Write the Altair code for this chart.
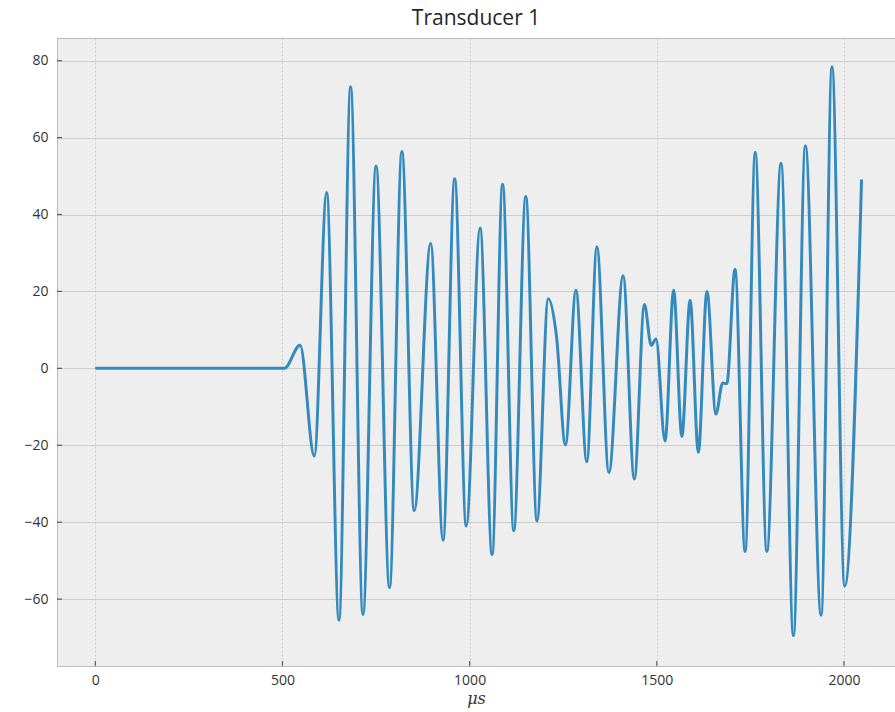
import altair as alt
import pandas as pd

# Extrema of the recorded signal (time in microseconds, amplitude)
time_us = [0, 505, 547, 585, 618, 651, 682, 715, 750, 786, 819, 852, 896, 929,
           960, 991, 1028, 1060, 1088, 1118, 1150, 1180, 1210, 1232, 1256, 1284,
           1313, 1340, 1372, 1410, 1440, 1467, 1485, 1498, 1522, 1545, 1567,
           1589, 1611, 1634, 1658, 1676, 1687, 1709, 1736, 1763, 1794, 1832,
           1865, 1897, 1939, 1968, 2002, 2047]
amplitude = [0, 0, 6.0, -22.8, 45.7, -65.5, 73.2, -64.0, 52.6, -57.0, 56.4,
             -37.0, 32.5, -44.7, 49.3, -41.0, 36.5, -48.4, 47.9, -42.2, 44.7,
             -39.7, 18.1, 8.4, -19.9, 20.3, -24.3, 31.6, -27.1, 24.1, -28.8,
             16.6, 6.0, 7.6, -18.9, 20.3, -17.7, 17.7, -21.8, 20.0, -11.9, -3.8,
             -4.0, 25.8, -47.6, 56.1, -47.6, 53.3, -69.5, 57.9, -64.2, 78.4,
             -56.6, 49.1]

x_ticks = [0, 500, 1000, 1500, 2000]
y_ticks = [-60, -40, -20, 0, 20, 40, 60, 80]

W, H = 838, 628
x_scale = alt.Scale(domain=[-102.35, 2136.4], nice=False, zero=False)
y_scale = alt.Scale(domain=[-77.4, 85.9], nice=False, zero=False)

signal = pd.DataFrame({"t": time_us, "a": amplitude})
xt = pd.DataFrame({"t": x_ticks})
yt = pd.DataFrame({"a": y_ticks})

label_expr = "datum.value < 0 ? '\u2212' + format(-datum.value, 'd') : format(datum.value, 'd')"

line = alt.Chart(signal).mark_line(
    color="#348ABD", strokeWidth=3, interpolate="monotone"
).encode(
    x=alt.X("t:Q", scale=x_scale,
            axis=alt.Axis(values=x_ticks, format="d", title="\u03bcs",
                          gridDash=[2, 2],
                          titleFont="DejaVu Serif", titleFontStyle="italic",
                          titleFontSize=16, titleFontWeight="normal",
                          titleColor="#333333", titlePadding=3,
                          labelPadding=7)),
    y=alt.Y("a:Q", scale=y_scale,
            axis=alt.Axis(values=y_ticks, title=None, labelExpr=label_expr,
                          labelPadding=9)),
)

# frame line along the top of the plot area
top_edge = alt.Chart(signal).mark_rule(color="#bcbcbc", strokeWidth=1).encode(
    x=alt.value(0), x2=alt.value(W), y=alt.value(0.5)
)

# inward-pointing tick marks
x_tick_marks = alt.Chart(xt).mark_tick(
    color="#262626", thickness=1.2, size=5, orient="vertical"
).encode(
    x=alt.X("t:Q", scale=x_scale),
    y=alt.value(H - 2.5),
)
y_tick_marks = alt.Chart(yt).mark_tick(
    color="#262626", thickness=1.2, size=5, orient="horizontal"
).encode(
    y=alt.Y("a:Q", scale=y_scale),
    x=alt.value(2.5),
)

chart = alt.layer(line, top_edge, x_tick_marks, y_tick_marks).properties(
    width=W, height=H,
    title=alt.Title("Transducer 1", font="Open Sans", fontSize=21,
                    fontWeight="normal", color="#262626", anchor="middle",
                    offset=9),
    autosize=alt.AutoSizeParams(type="none"),
    padding={"left": 57, "top": 38, "right": 0, "bottom": 45},
).configure_view(
    fill="#eeeeee", stroke=None
).configure_axis(
    domainColor="#bcbcbc", domainWidth=1, ticks=False,
    gridColor="#c4c4c4", gridWidth=0.8,
    labelFont="Open Sans", labelFontSize=14, labelColor="#333333",
).configure_axisY(
    gridDash=[]
)

chart.save("out.html", embed_options={"renderer": "svg", "actions": False})
